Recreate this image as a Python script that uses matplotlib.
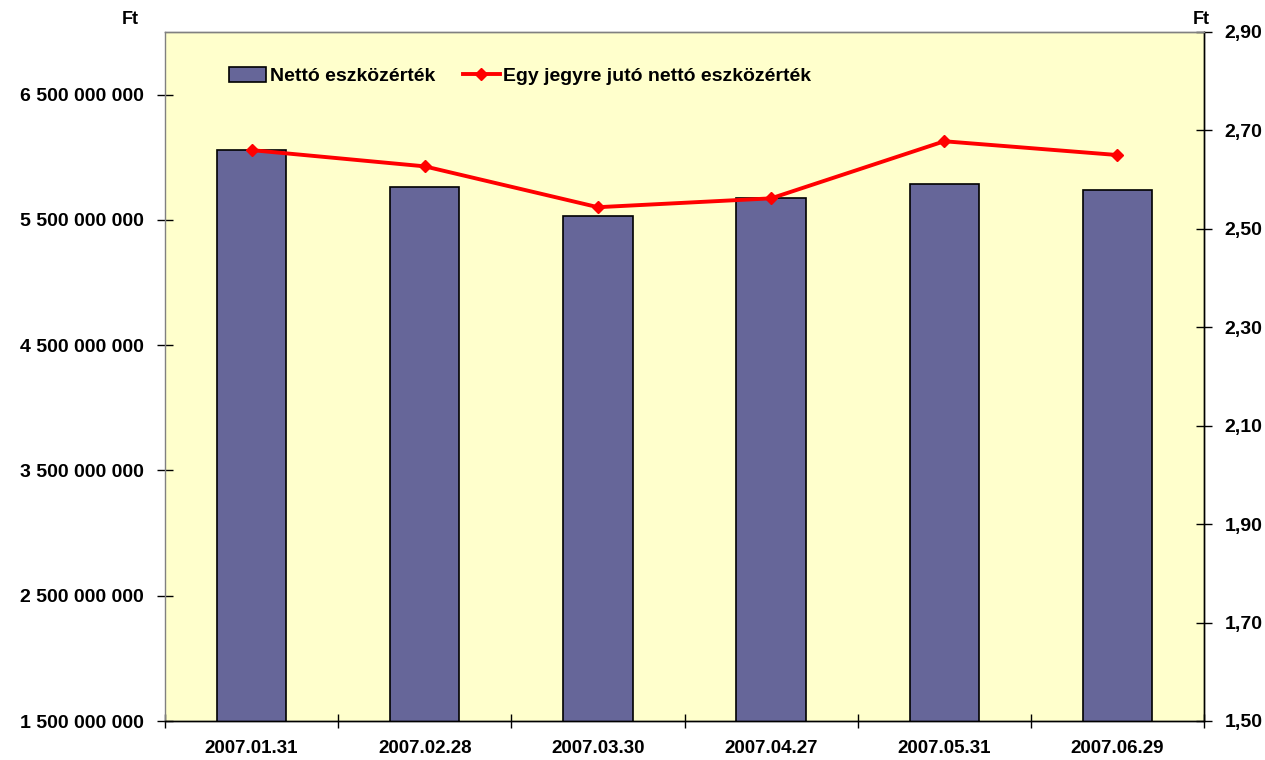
import numpy as np
import matplotlib.pyplot as plt
from matplotlib.ticker import FuncFormatter

# Data
dates = ["2007.01.31", "2007.02.28", "2007.03.30", "2007.04.27", "2007.05.31", "2007.06.29"]
net_assets = [6060000000, 5762000000, 5530000000, 5676000000, 5790000000, 5740000000]
nav_per_unit = [2.660, 2.627, 2.544, 2.562, 2.678, 2.650]

left_ticks = [1500000000, 2500000000, 3500000000, 4500000000, 5500000000, 6500000000]
right_ticks = [1.50, 1.70, 1.90, 2.10, 2.30, 2.50, 2.70, 2.90]

plt.rcParams["font.family"] = ["Liberation Sans", "DejaVu Sans"]
plt.rcParams["font.weight"] = "bold"

fig = plt.figure(figsize=(12.65, 7.6), dpi=100)
ax = fig.add_axes([165 / 1265, 1 - 721 / 760, (1204 - 165) / 1265, (721 - 32) / 760])
ax.set_facecolor("#FFFFCC")

x = np.arange(len(dates))
bars = ax.bar(x, net_assets, width=0.40, color="#666699", edgecolor="black",
              linewidth=1.2, label="Nettó eszközérték", zorder=2)
ax.set_xlim(-0.5, len(dates) - 0.5)
ax.set_ylim(1500000000, 7000000000)
ax.set_yticks(left_ticks)
ax.yaxis.set_major_formatter(FuncFormatter(lambda v, p: f"{int(v):,}".replace(",", " ")))
ax.set_xticks(np.arange(len(dates) + 1) - 0.5)
ax.set_xticklabels([])
ax.set_xticks(x, minor=True)
ax.set_xticklabels(dates, minor=True)
ax.tick_params(axis="x", which="minor", length=0, pad=14, labelsize=13.5)
ax.tick_params(axis="x", which="major", direction="inout", length=10, width=1)
ax.tick_params(axis="y", direction="inout", length=12, width=1, labelsize=14, pad=9)

ax2 = ax.twinx()
line, = ax2.plot(x, nav_per_unit, color="#FF0000", linewidth=2.8, marker="D",
                 markersize=6, label="Egy jegyre jutó nettó eszközérték", zorder=3)
ax2.set_ylim(1.50, 2.90)
ax2.set_yticks(right_ticks)
ax2.yaxis.set_major_formatter(FuncFormatter(lambda v, p: f"{v:.2f}".replace(".", ",")))
ax2.tick_params(axis="y", direction="inout", length=12, width=1, labelsize=14, pad=9)

for a in (ax, ax2):
    for s in a.spines.values():
        s.set_linewidth(1)
    a.spines["top"].set_color("#808080")
ax.spines["left"].set_color("#808080")
ax2.spines["left"].set_visible(False)

fig.text(130 / 1265, 1 - 20 / 760, "Ft", ha="center", va="center", fontsize=13)
fig.text(1201 / 1265, 1 - 20 / 760, "Ft", ha="center", va="center", fontsize=13)

ax.legend([bars, line], ["Nettó eszközérték", "Egy jegyre jutó nettó eszközérték"],
          loc="upper left", bbox_to_anchor=(0.045, 0.975), ncol=2, frameon=False,
          fontsize=14, handlelength=1.9, handleheight=0.8, columnspacing=1.4,
          handletextpad=0.2)

fig.savefig("out.png", dpi=100)
